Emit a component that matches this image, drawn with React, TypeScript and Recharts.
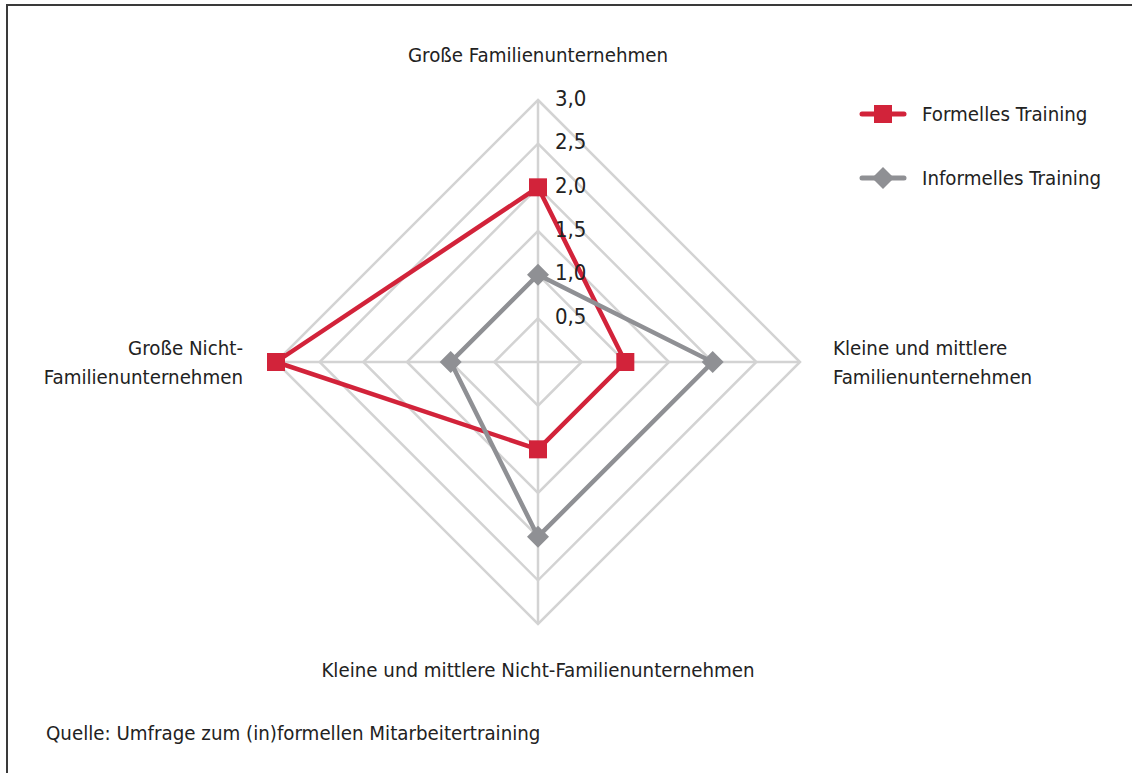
import React from 'react';
import { RadarChart, Radar, PolarGrid, PolarAngleAxis, PolarRadiusAxis, Legend } from 'recharts';

const categories = [
  'Große Familienunternehmen',
  'Kleine und mittlere\nFamilienunternehmen',
  'Kleine und mittlere Nicht-Familienunternehmen',
  'Große Nicht-\nFamilienunternehmen',
];
const formell = [2.0, 1.0, 1.0, 3.0];
const informell = [1.0, 2.0, 2.0, 1.0];
const radiusTicks = [0.5, 1.0, 1.5, 2.0, 2.5, 3.0];

const RED = '#d2233a';
const GRAY = '#8f9094';
const FONT = '"Liberation Sans Narrow", "DejaVu Sans Condensed", "Roboto Condensed", "Open Sans", sans-serif';
const TEXT_SIZE = 20.3;
const CX = 538;
const CY = 362;

const data = categories.map((name, i) => ({ name, formell: formell[i], informell: informell[i] }));

function AngleTick(props: any) {
  const { x, y, payload } = props;
  const lines: string[] = String(payload.value).split('\n');
  let tx = x;
  let ty = y;
  let anchor: 'start' | 'middle' | 'end' = 'middle';
  if (Math.abs(x - CX) < 1) {
    ty = y < CY ? y - 37 : y + 38;
  } else if (x > CX) {
    tx = x + 25;
    anchor = 'start';
  } else {
    tx = x - 25;
    anchor = 'end';
  }
  const lh = 29;
  const start = ty - ((lines.length - 1) * lh) / 2;
  return (
    <text x={tx} y={start} textAnchor={anchor} fontSize={TEXT_SIZE} fill="#222" fontFamily={FONT} dominantBaseline="central">
      {lines.map((l, i) => (
        <tspan key={i} x={tx} y={start + i * lh}>
          {l}
        </tspan>
      ))}
    </text>
  );
}

function RadiusTick(props: any) {
  const { x, y, payload } = props;
  return (
    <text x={x + 17} y={y - 2} fontSize={22} fill="#222" fontFamily={FONT} dominantBaseline="central">
      {Number(payload.value).toFixed(1).replace('.', ',')}
    </text>
  );
}

function SquareDot(props: any) {
  const { cx, cy } = props;
  return <rect x={cx - 9} y={cy - 9} width={18} height={18} fill={RED} />;
}

function DiamondDot(props: any) {
  const { cx, cy } = props;
  const r = 11;
  return <polygon points={`${cx},${cy - r} ${cx + r},${cy} ${cx},${cy + r} ${cx - r},${cy}`} fill={GRAY} />;
}

function LegendBox() {
  const items = [
    { label: 'Formelles Training', color: RED, shape: 'square' },
    { label: 'Informelles Training', color: GRAY, shape: 'diamond' },
  ];
  return (
    <svg width={260} height={110}>
      {items.map((it, i) => {
        const y = 24 + i * 64;
        return (
          <g key={it.label}>
            <line x1={4} x2={46} y1={y} y2={y} stroke={it.color} strokeWidth={5} strokeLinecap="round" />
            {it.shape === 'square' ? (
              <rect x={16} y={y - 9} width={18} height={18} fill={it.color} />
            ) : (
              <polygon points={`25,${y - 11} 36,${y} 25,${y + 11} 14,${y}`} fill={it.color} />
            )}
            <text x={64} y={y} fontSize={TEXT_SIZE} fill="#222" fontFamily={FONT} dominantBaseline="central">
              {it.label}
            </text>
          </g>
        );
      })}
    </svg>
  );
}

export default function App() {
  return (
    <div style={{ position: 'absolute', left: 0, top: 0, width: 1132, height: 773, background: '#fff', overflow: 'hidden' }}>
      <div
        style={{
          position: 'absolute',
          left: 6,
          top: 4,
          width: 1140,
          height: 780,
          borderLeft: '2px solid #3a3a3a',
          borderTop: '2px solid #3a3a3a',
        }}
      />
      <RadarChart width={1132} height={773} data={data} cx={CX} cy={CY} outerRadius={262} startAngle={90} endAngle={-270}>
        <PolarGrid gridType="polygon" stroke="#d3d3d3" strokeWidth={2.5} />
        <PolarAngleAxis dataKey="name" tick={<AngleTick />} tickLine={false} axisLine={false} />
        <PolarRadiusAxis
          angle={90}
          domain={[0, 3]}
          ticks={radiusTicks}
          tick={<RadiusTick />}
          axisLine={false}
          tickLine={false}
        />
        <Radar
          dataKey="formell"
          name="Formelles Training"
          stroke={RED}
          strokeWidth={4.5}
          fill="none"
          fillOpacity={0}
          dot={<SquareDot />}
          isAnimationActive={false}
        />
        <Radar
          dataKey="informell"
          name="Informelles Training"
          stroke={GRAY}
          strokeWidth={4.5}
          fill="none"
          fillOpacity={0}
          dot={<DiamondDot />}
          isAnimationActive={false}
        />
        <Legend
          content={() => <LegendBox />}
          wrapperStyle={{ position: 'absolute', left: 858, top: 90, width: 260 }}
        />
      </RadarChart>
      <div
        style={{
          position: 'absolute',
          left: 46,
          top: 719,
          fontFamily: FONT,
          fontSize: TEXT_SIZE,
          color: '#222',
          lineHeight: '28px',
        }}
      >
        Quelle: Umfrage zum (in)formellen Mitarbeitertraining
      </div>
    </div>
  );
}
